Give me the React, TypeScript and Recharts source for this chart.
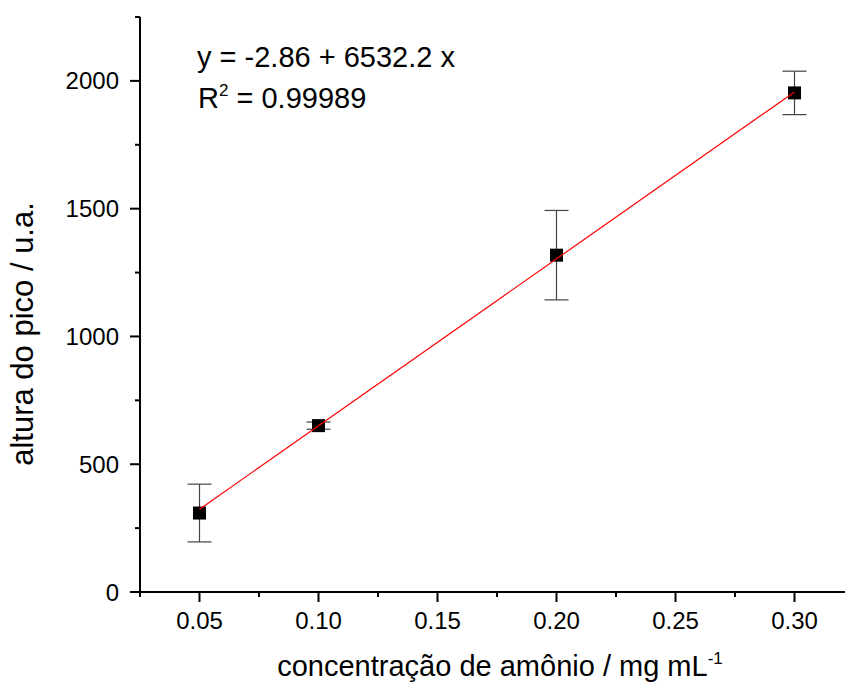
import { ScatterChart, Scatter, XAxis, YAxis, ErrorBar } from "recharts";

// concentração (mg/mL), altura do pico (u.a.), desvio
const conc = [0.05, 0.1, 0.2, 0.3];
const altura = [309, 651, 1318, 1953];
const desvio = [113, 14, 175, 85];

// reta ajustada y = -2.86 + 6532.2 x, extremos
const fitX = [0.05, 0.3];
const fitY = [323.8, 1956.8];

const xMajor = [0.05, 0.1, 0.15, 0.2, 0.25, 0.3];
const xMinor = [0.025, 0.075, 0.125, 0.175, 0.225, 0.275, 0.325];
const yMajor = [0, 500, 1000, 1500, 2000];
const yMinor = [250, 750, 1250, 1750, 2250];

const pts = conc.map((x, i) => ({ x, y: altura[i], err: desvio[i] }));
const fit = fitX.map((x, i) => ({ x, y: fitY[i] }));

const FONT = '"Liberation Sans", Arial, sans-serif';

const isIn = (arr: number[], v: number) => arr.some((a) => Math.abs(a - v) < 1e-6);

function XTick(props: any) {
  const { x, y, payload } = props;
  const major = isIn(xMajor, payload.value);
  return (
    <g>
      <line x1={x} x2={x} y1={y} y2={y + (major ? 10 : 5)} stroke="#000" strokeWidth={2} />
      {major && (
        <text x={x} y={y + 37} textAnchor="middle" fontSize={24} fontFamily={FONT} fill="#000">
          {payload.value.toFixed(2)}
        </text>
      )}
    </g>
  );
}

function YTick(props: any) {
  const { x, y, payload } = props;
  const major = isIn(yMajor, payload.value);
  return (
    <g>
      <line x1={x} x2={x - (major ? 10 : 5)} y1={y} y2={y} stroke="#000" strokeWidth={2} />
      {major && (
        <text x={x - 21} y={y + 8.5} textAnchor="end" fontSize={24} fontFamily={FONT} fill="#000">
          {payload.value}
        </text>
      )}
    </g>
  );
}

const Square = (p: any) => <rect x={p.cx - 6.5} y={p.cy - 6.5} width={13} height={13} fill="#000" />;

export default function App() {
  const ticksX = [...xMajor, ...xMinor].sort((a, b) => a - b);
  const ticksY = [...yMajor, ...yMinor].sort((a, b) => a - b);
  return (
    <div style={{ position: "absolute", left: 0, top: 0, width: 845, height: 684, overflow: "hidden", background: "#fff" }}>
      <ScatterChart width={854} height={684} margin={{ top: 17, right: 0, bottom: 0, left: 0 }}>
        <XAxis
          type="number"
          dataKey="x"
          domain={[0.025, 0.325]}
          ticks={ticksX}
          tick={<XTick />}
          tickLine={false}
          tickSize={0}
          tickMargin={0}
          height={92}
          axisLine={{ stroke: "#000", strokeWidth: 2 }}
          interval={0}
          label={{
            content: (lp: any) => {
              const vb = lp.viewBox;
              return (
                <text x={vb.x + vb.width / 2 + 3} y={676} textAnchor="middle" fontSize={29} fontFamily={FONT} fill="#000">
                  concentração de amônio / mg mL
                  <tspan fontSize={17} dy={-12}>-1</tspan>
                </text>
              );
            },
          }}
        />
        <YAxis
          type="number"
          dataKey="y"
          domain={[0, 2250]}
          ticks={ticksY}
          tick={<YTick />}
          tickLine={false}
          tickSize={0}
          tickMargin={0}
          width={140}
          axisLine={{ stroke: "#000", strokeWidth: 2 }}
          interval={0}
          label={{
            content: () => (
              <text
                transform="translate(33,334) rotate(-90)"
                textAnchor="middle"
                fontSize={31}
                fontFamily={FONT}
                fill="#000"
              >
                altura do pico / u.a.
              </text>
            ),
          }}
        />
        <Scatter data={pts} shape={<Square />} isAnimationActive={false}>
          <ErrorBar dataKey="err" direction="y" width={12} stroke="#444" strokeWidth={1.2} isAnimationActive={false} />
        </Scatter>
        <Scatter
          data={fit}
          line={{ stroke: "#ff0000", strokeWidth: 1.2 }}
          shape={() => <g />}
          isAnimationActive={false}
        />
      </ScatterChart>
      <svg width={845} height={684} style={{ position: "absolute", left: 0, top: 0, pointerEvents: "none" }}>
        <text x={197} y={67} fontSize={29} fontFamily={FONT} fill="#000">
          y = -2.86 + 6532.2 x
        </text>
        <text x={198} y={108} fontSize={29} fontFamily={FONT} fill="#000">
          R<tspan fontSize={17} dy={-12}>2</tspan>
          <tspan dy={12}> = 0.99989</tspan>
        </text>
      </svg>
    </div>
  );
}
